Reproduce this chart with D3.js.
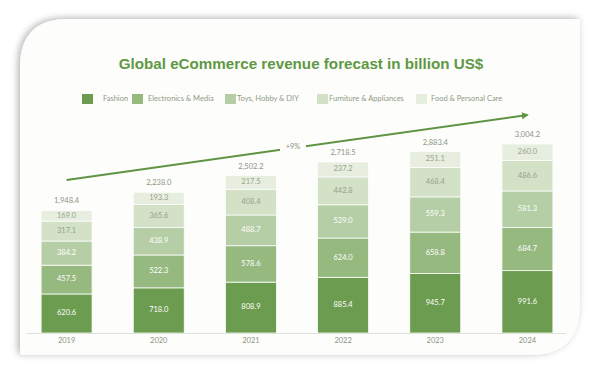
<!DOCTYPE html>
<html>
<head>
<meta charset="utf-8">
<script src="https://cdn.jsdelivr.net/npm/d3@7"></script>
<style>
  body { margin: 0; background: #fff; }
  text { font-family: Lato, "Open Sans", sans-serif; }
</style>
</head>
<body>
<div id="chart"></div>
<script>
const years = ["2019", "2020", "2021", "2022", "2023", "2024"];
const categories = ["Fashion", "Electronics & Media", "Toys, Hobby & DIY", "Furniture & Appliances", "Food & Personal Care"];
const fashion = [620.6, 718.0, 808.9, 885.4, 945.7, 991.6];
const electronics = [457.5, 522.3, 578.6, 624.0, 658.8, 684.7];
const toys = [384.2, 438.9, 488.7, 529.0, 559.3, 581.3];
const furniture = [317.1, 365.6, 408.4, 442.8, 468.4, 486.6];
const food = [169.0, 193.3, 217.5, 237.2, 251.1, 260.0];
const totals = [1948.4, 2238.0, 2502.2, 2718.5, 2883.4, 3004.2];
const growthLabel = "+9%";

const colors = ["#6c9c4f", "#96b97f", "#b6cea5", "#d3e1c7", "#e7eee0"];
const labelColors = ["#fff", "#fff", "#fff", "#93a487", "#93a487"];

const W = 600, H = 376;
const svg = d3.select("#chart").append("svg")
  .attr("width", W).attr("height", H);

// card with drop shadow
const defs = svg.append("defs");
const f = defs.append("filter").attr("id", "sh")
  .attr("x", "-10%").attr("y", "-10%").attr("width", "120%").attr("height", "120%");
f.append("feDropShadow").attr("dx", -2).attr("dy", -1).attr("stdDeviation", 3.5)
  .attr("flood-color", "#000").attr("flood-opacity", 0.3);

const cx0 = 20, cy0 = 19, cx1 = 580, cy1 = 355, r1 = 48, r2 = 50;
svg.append("path")
  .attr("d", `M${cx0},${cy0 + r1} Q${cx0},${cy0} ${cx0 + r1},${cy0} L${cx1 - 3},${cy0} Q${cx1},${cy0} ${cx1},${cy0 + 3}
    L${cx1},${cy1 - r2} Q${cx1},${cy1} ${cx1 - r2},${cy1} L${cx0 + 3},${cy1} Q${cx0},${cy1} ${cx0},${cy1 - 3} Z`)
  .attr("fill", "#fdfdfb")
  .attr("filter", "url(#sh)");

// title
svg.append("text")
  .attr("x", 301).attr("y", 69)
  .attr("text-anchor", "middle")
  .style("font-family", "'Liberation Sans', Arial, sans-serif")
  .attr("font-size", 15.2).attr("font-weight", "bold")
  .attr("fill", "#5f9844")
  .text("Global eCommerce revenue forecast in billion US$");

// legend
const legendX = [82, 132, 225, 317, 416];
const lg = svg.append("g").selectAll("g").data(categories).enter().append("g")
  .attr("transform", (d, i) => `translate(${legendX[i]},94)`);
lg.append("rect").attr("width", 11).attr("height", 10)
  .attr("fill", (d, i) => colors[i]);
lg.append("text").attr("x", (d, i) => i == 0 ? 21 : (i == 1 ? 16 : (i == 4 ? 15 : 12)))
  .attr("y", 5).attr("dominant-baseline", "middle")
  .attr("font-size", 7.5).attr("fill", "#8d9a85")
  .text((d) => d);

// scales
const x = d3.scaleBand().domain(years).range([20.5, 573.5]).paddingInner(0.447).paddingOuter(0.2235);
const y = d3.scaleLinear().domain([0, 3000]).range([333, 144.3]);

const series = [fashion, electronics, toys, furniture, food];
const table = years.map((yr, i) => {
  const row = { year: yr };
  categories.forEach((c, k) => row[c] = series[k][i]);
  return row;
});
const stacked = d3.stack().keys(categories)(table);

const bars = svg.append("g");
stacked.forEach((layer, k) => {
  const g = bars.append("g");
  g.selectAll("rect").data(layer).enter().append("rect")
    .attr("x", (d) => x(d.data.year))
    .attr("width", x.bandwidth())
    .attr("y", (d) => y(d[1]))
    .attr("height", (d) => y(d[0]) - y(d[1]))
    .attr("fill", colors[k])
    .attr("stroke", "#fdfdfb").attr("stroke-width", 0.8);
  g.selectAll("text").data(layer).enter().append("text")
    .attr("x", (d) => x(d.data.year) + x.bandwidth() / 2)
    .attr("y", (d) => (y(d[0]) + y(d[1])) / 2)
    .attr("text-anchor", "middle").attr("dominant-baseline", "middle")
    .attr("font-size", 7.5).attr("fill", labelColors[k])
    .text((d) => d3.format(".1f")(d[1] - d[0]));
});

// totals
svg.append("g").selectAll("text").data(totals).enter().append("text")
  .attr("x", (d, i) => x(years[i]) + x.bandwidth() / 2)
  .attr("y", (d) => y(d) - 7)
  .attr("text-anchor", "middle")
  .attr("font-size", 7.5).attr("fill", "#8a9582")
  .text((d) => d3.format(",.1f")(d));

// x axis
svg.append("line").attr("x1", 27).attr("x2", 566).attr("y1", 333.5).attr("y2", 333.5)
  .attr("stroke", "#dde3d8");
svg.append("g").selectAll("text").data(years).enter().append("text")
  .attr("x", (d) => x(d) + x.bandwidth() / 2)
  .attr("y", 341).attr("dominant-baseline", "middle")
  .attr("text-anchor", "middle").attr("font-size", 7.5).attr("fill", "#8a9582")
  .text((d) => d);

// growth arrow
defs.append("marker").attr("id", "ah").attr("viewBox", "0 0 10 10")
  .attr("refX", 8).attr("refY", 5).attr("markerWidth", 3.5).attr("markerHeight", 3.5)
  .attr("orient", "auto")
  .append("path").attr("d", "M0,0 L10,5 L0,10 Z").attr("fill", "#5e9443");
const ax1 = x("2019") + x.bandwidth() / 2, ay1 = y(2432);
const ax2 = x("2024") + x.bandwidth() / 2, ay2 = y(3466);
svg.append("line").attr("x1", ax1).attr("y1", ay1).attr("x2", ax2).attr("y2", ay2)
  .attr("stroke", "#5e9443").attr("stroke-width", 2)
  .attr("marker-end", "url(#ah)");
const lx = 293, ly = ay1 + (ay2 - ay1) * (lx - ax1) / (ax2 - ax1);
svg.append("rect").attr("x", lx - 13).attr("y", ly - 6).attr("width", 26).attr("height", 11)
  .attr("fill", "#fdfdfb");
svg.append("text").attr("x", lx).attr("y", ly - 1)
  .attr("text-anchor", "middle").attr("dominant-baseline", "middle")
  .attr("font-size", 7.5).attr("fill", "#8a9582")
  .text(growthLabel);
</script>
</body>
</html>
